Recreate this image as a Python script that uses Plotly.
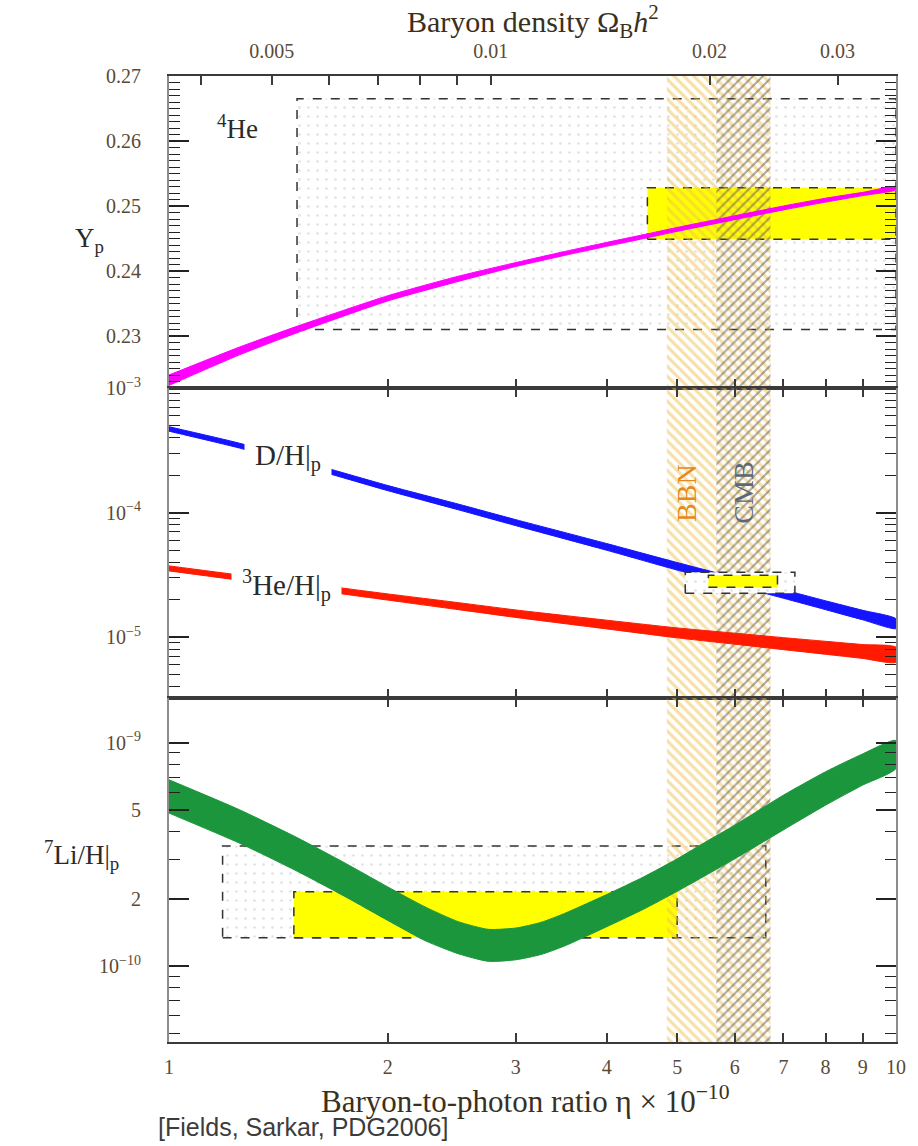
import plotly.graph_objects as go
import numpy as np

# ---------------- data ----------------
# Helium-4 mass fraction band
eta_yp = [1, 1.25, 1.5, 2, 2.5, 3, 3.5, 4, 4.5, 5, 6, 7, 8, 9, 10]
yp_hi = [0.2240, 0.2283, 0.2315, 0.2362, 0.2392, 0.2413, 0.2430, 0.2444, 0.2456, 0.2467, 0.2485, 0.2500, 0.2512, 0.2521, 0.2530]
yp_lo = [0.2224, 0.2271, 0.2305, 0.2354, 0.2384, 0.2407, 0.2424, 0.2438, 0.2450, 0.2461, 0.2479, 0.2494, 0.2506, 0.2516, 0.2525]

# D/H and 3He/H bands
eta_dh = [1, 1.25, 1.5, 2, 2.5, 3, 4, 5, 6, 7, 8, 9, 10]
dh_hi = [4.90e-4, 3.61e-4, 2.67e-4, 1.65e-4, 1.17e-4, 8.77e-5, 5.64e-5, 3.97e-5, 3.01e-5, 2.40e-5, 1.955e-5, 1.64e-5, 1.40e-5]
dh_lo = [4.51e-4, 3.30e-4, 2.44e-4, 1.50e-4, 1.053e-4, 7.85e-5, 4.98e-5, 3.45e-5, 2.60e-5, 2.05e-5, 1.66e-5, 1.375e-5, 1.17e-5]
he3_hi = [3.73e-5, 3.15e-5, 2.76e-5, 2.22e-5, 1.89e-5, 1.65e-5, 1.366e-5, 1.184e-5, 1.074e-5, 9.89e-6, 9.24e-6, 8.70e-6, 8.27e-6]
he3_lo = [3.40e-5, 2.86e-5, 2.49e-5, 1.98e-5, 1.66e-5, 1.437e-5, 1.162e-5, 9.85e-6, 8.76e-6, 7.92e-6, 7.27e-6, 6.73e-6, 6.27e-6]

# Li-7 band
eta_li = [1, 1.25, 1.5, 1.75, 2, 2.25, 2.5, 2.75, 3, 3.25, 3.5, 4, 4.5, 5, 5.5, 6, 7, 8, 9, 10]
li_hi = [6.82e-10, 5.01e-10, 3.76e-10, 2.88e-10, 2.26e-10, 1.84e-10, 1.58e-10, 1.46e-10, 1.48e-10, 1.57e-10,
         1.72e-10, 2.09e-10, 2.51e-10, 3.02e-10, 3.63e-10, 4.27e-10, 5.82e-10, 7.41e-10, 8.91e-10, 1.023e-9]
li_lo = [4.84e-10, 3.55e-10, 2.66e-10, 2.04e-10, 1.60e-10, 1.30e-10, 1.135e-10, 1.05e-10, 1.067e-10, 1.127e-10,
         1.23e-10, 1.50e-10, 1.80e-10, 2.16e-10, 2.57e-10, 3.02e-10, 4.07e-10, 5.25e-10, 6.46e-10, 7.67e-10]

# observational boxes: [eta_min, eta_max], [y_min, y_max]
he4_box_eta, he4_box_y = [1.50, 10.0], [0.231, 0.2665]
he4_yel_eta, he4_yel_y = [4.55, 10.0], [0.2449, 0.2528]
dh_box_eta, dh_box_y = [5.13, 7.26], [2.25e-5, 3.31e-5]
dh_yel_eta, dh_yel_y = [5.52, 6.87], [2.51e-5, 3.13e-5]
li_box_eta, li_box_y = [1.185, 6.62], [1.34e-10, 3.45e-10]
li_yel_eta, li_yel_y = [1.485, 5.0], [1.34e-10, 2.15e-10]

# concordance bands
bbn_eta = [4.84, 6.72]
cmb_eta = [5.66, 6.72]

# axes
eta_ticks = [1, 2, 3, 4, 5, 6, 7, 8, 9, 10]
eta_tick_text = ["1", "2", "3", "4", "5", "6", "7", "8", "9", "10"]
omega_ticks = [0.004, 0.005, 0.006, 0.007, 0.008, 0.009, 0.01, 0.02, 0.03]
omega_tick_text = ["", "0.005", "", "", "", "", "0.01", "0.02", "0.03"]
ETA_PER_OMEGA = 277.0
yp_ticks = [0.23, 0.24, 0.25, 0.26, 0.27]
yp_tick_text = ["0.23", "0.24", "0.25", "0.26", "0.27"]
mid_ticks = [1e-5, 1e-4, 1e-3]
mid_tick_text = ["10<sup>−5</sup>", "10<sup>−4</sup>", "10<sup>−3</sup>"]
li_ticks = [1e-10, 2e-10, 5e-10, 1e-9]
li_tick_text = ["10<sup>−10</sup>", "2", "5", "10<sup>−9</sup>"]

Y1_RANGE = [0.222, 0.27]
Y2_RANGE = [-5.49, -2.999]
Y3_RANGE = [-10.34, -8.8]

# ---------------- helpers ----------------
SERIF = "Liberation Serif"
LABEL_COL = "#5a4a35"
AX_LINE = "#3a3a3a"
Y_LINE = "#8c8c8c"


def rect(xr, yr):
    return [xr[0], xr[1], xr[1], xr[0], xr[0]], [yr[0], yr[0], yr[1], yr[1], yr[0]]


def band(x, hi, lo):
    return list(x) + list(x)[::-1], list(hi) + list(lo)[::-1]


fig = go.Figure()


def add_stipple_box(xr, yr, xa, ya, bg="rgba(255,255,255,0)"):
    xs, ys = rect(xr, yr)
    fig.add_trace(go.Scatter(x=xs, y=ys, xaxis=xa, yaxis=ya, mode="lines", fill="toself",
                             fillcolor=bg,
                             fillpattern=dict(shape=".", fgcolor="#c4c4c4", bgcolor=bg, size=9, solidity=0.07),
                             line=dict(color="#333333", width=1.5, dash="dash"),
                             hoverinfo="skip", showlegend=False))


def add_yellow_box(xr, yr, xa, ya):
    xs, ys = rect(xr, yr)
    fig.add_trace(go.Scatter(x=xs, y=ys, xaxis=xa, yaxis=ya, mode="lines", fill="toself",
                             fillcolor="#ffff00", line=dict(color="#333333", width=1.5, dash="dash"),
                             hoverinfo="skip", showlegend=False))


def add_hatches(xa, ya, yr, is_log):
    lo_, hi_ = (10 ** yr[0], 10 ** yr[1]) if is_log else (yr[0], yr[1])
    xs, ys = rect(bbn_eta, [lo_, hi_])
    fig.add_trace(go.Scatter(x=xs, y=ys, xaxis=xa, yaxis=ya, mode="lines", fill="toself",
                             fillcolor="rgba(0,0,0,0)",
                             fillpattern=dict(shape="\\", fgcolor="#f0c250", bgcolor="rgba(0,0,0,0)",
                                              size=7, solidity=0.45),
                             line=dict(width=0, color="rgba(0,0,0,0)"), hoverinfo="skip", showlegend=False))
    xs, ys = rect(cmb_eta, [lo_, hi_])
    fig.add_trace(go.Scatter(x=xs, y=ys, xaxis=xa, yaxis=ya, mode="lines", fill="toself",
                             fillcolor="rgba(0,0,0,0)",
                             fillpattern=dict(shape="/", fgcolor="#5c5650", bgcolor="rgba(0,0,0,0)",
                                              size=7, solidity=0.3),
                             line=dict(width=0, color="rgba(0,0,0,0)"), hoverinfo="skip", showlegend=False))


def add_band(x, hi, lo, color, xa, ya):
    xs, ys = band(x, hi, lo)
    fig.add_trace(go.Scatter(x=xs, y=ys, xaxis=xa, yaxis=ya, mode="lines", fill="toself",
                             fillcolor=color, line=dict(color=color, width=1, shape="spline", smoothing=0.6),
                             hoverinfo="skip", showlegend=False))


# ---- panel 1: 4He ----
add_stipple_box(he4_box_eta, he4_box_y, "x", "y")
add_yellow_box(he4_yel_eta, he4_yel_y, "x", "y")
add_hatches("x", "y", Y1_RANGE, False)
add_band(eta_yp, yp_hi, yp_lo, "#ff00ff", "x", "y")

# ---- panel 2: D/H, 3He/H ----
add_hatches("x2", "y2", Y2_RANGE, True)
add_band(eta_dh, dh_hi, dh_lo, "#1414ff", "x2", "y2")
add_band(eta_dh, he3_hi, he3_lo, "#ff1a00", "x2", "y2")
add_stipple_box(dh_box_eta, dh_box_y, "x2", "y2", bg="rgba(255,255,255,1)")
add_yellow_box(dh_yel_eta, dh_yel_y, "x2", "y2")

# ---- panel 3: 7Li ----
add_stipple_box(li_box_eta, li_box_y, "x3", "y3")
add_yellow_box(li_yel_eta, li_yel_y, "x3", "y3")
add_hatches("x3", "y3", Y3_RANGE, True)
add_band(eta_li, li_hi, li_lo, "#1b963c", "x3", "y3")

# invisible trace to carry the top (Omega_B h^2) axis
fig.add_trace(go.Scatter(x=[1, 10], y=[0.25, 0.25], xaxis="x4", yaxis="y", mode="lines",
                         line=dict(width=0, color="rgba(0,0,0,0)"), hoverinfo="skip", showlegend=False))

# ---------------- layout ----------------
tickfont = dict(family=SERIF, size=20, color=LABEL_COL)
d3 = [0.0, 0.3561]
d2 = [0.3561, 0.6770]
d1 = [0.6770, 1.0]

xcommon = dict(type="log", range=[0, 1], showline=True, linecolor=AX_LINE, linewidth=2,
               ticks="inside", ticklen=9, tickwidth=1.5, tickcolor=AX_LINE,
               tickmode="array", tickvals=eta_ticks, ticktext=eta_tick_text,
               showgrid=False, zeroline=False, tickfont=tickfont)

ycommon = dict(showline=True, linecolor=Y_LINE, linewidth=2, mirror="ticks",
               ticks="inside", ticklen=20, tickwidth=1.5, tickcolor="#222222",
               showgrid=False, zeroline=False, tickfont=tickfont, ticklabelstandoff=22)

mid_minor = [m * 10.0 ** e for e in (-6, -5, -4) for m in range(2, 10)]
li_minor = [m * 10.0 ** e for e in (-11, -10) for m in range(2, 10)]

fig.update_layout(
    width=918, height=1146,
    margin=dict(l=169, r=13, t=76, b=104),
    plot_bgcolor="white", paper_bgcolor="white",
    showlegend=False,
    xaxis=dict(**xcommon, anchor="y", domain=[0, 1], showticklabels=False, mirror=False),
    xaxis2=dict(**xcommon, anchor="y2", domain=[0, 1], showticklabels=False, mirror="ticks"),
    xaxis3=dict(**xcommon, anchor="y3", domain=[0, 1], showticklabels=True, mirror="ticks",
                ticklabelstandoff=6),
    xaxis4=dict(type="log", range=[0, 1], overlaying="x", anchor="y", side="top",
                showline=True, linecolor=AX_LINE, linewidth=2,
                ticks="inside", ticklen=9, tickwidth=1.5, tickcolor=AX_LINE,
                tickmode="array", tickvals=[o * ETA_PER_OMEGA for o in omega_ticks],
                ticktext=omega_tick_text, showgrid=False, zeroline=False, tickfont=tickfont,
                ticklabelstandoff=8),
    yaxis=dict(**ycommon, domain=d1, range=Y1_RANGE, tickmode="array", tickvals=yp_ticks,
               ticktext=yp_tick_text,
               minor=dict(ticks="inside", ticklen=11, tickwidth=1.2, tickcolor="#222222",
                          dtick=0.001, tick0=0.22, showgrid=False)),
    yaxis2=dict(**ycommon, domain=d2, type="log", range=Y2_RANGE, tickmode="array",
                tickvals=mid_ticks, ticktext=mid_tick_text,
                minor=dict(ticks="inside", ticklen=11, tickwidth=1.2, tickcolor="#222222",
                           tickmode="array", tickvals=mid_minor, showgrid=False)),
    yaxis3=dict(**ycommon, domain=d3, type="log", range=Y3_RANGE, tickmode="array",
                tickvals=li_ticks, ticktext=li_tick_text,
                minor=dict(ticks="inside", ticklen=11, tickwidth=1.2, tickcolor="#222222",
                           tickmode="array", tickvals=li_minor, showgrid=False)),
)

ann_font = dict(family=SERIF, size=29, color="#2a2a2a")
annotations = [
    dict(text="<sup>4</sup>He", x=0.094, y=0.947, font=dict(family=SERIF, size=27, color="#2a2a2a")),
    dict(text="D/H|<sub>p</sub>", x=0.164, y=0.6046, font=ann_font, bgcolor="white", borderpad=10),
    dict(text="<sup>3</sup>He/H|<sub>p</sub>", x=0.162, y=0.473, font=ann_font, bgcolor="white", borderpad=10),
    dict(text="BBN", x=0.712, y=0.568, textangle=-90, font=dict(family=SERIF, size=28, color="#e48a1c")),
    dict(text="CMB", x=0.790, y=0.569, textangle=-90, font=dict(family=SERIF, size=28, color="#5b6878")),
    dict(text="Y<sub>p</sub>", x=-0.11, y=0.830, font=dict(family=SERIF, size=27, color="#2a2a2a")),
    dict(text="<sup>7</sup>Li/H|<sub>p</sub>", x=-0.121, y=0.194, font=dict(family=SERIF, size=27, color="#2a2a2a")),
    dict(text="Baryon density Ω<sub>B</sub><i>h</i><sup>2</sup>", x=0.5, y=1.056,
         font=dict(family=SERIF, size=30, color="#3a3020")),
    dict(text="Baryon-to-photon ratio η × 10<sup>−10</sup>", x=0.49, y=-0.060,
         font=dict(family=SERIF, size=31, color="#3a3020")),
    dict(text="[Fields, Sarkar, PDG2006]", x=0.185, y=-0.088,
         font=dict(family="Liberation Sans", size=25, color="#3c3c3c")),
]
for a in annotations:
    a.update(xref="paper", yref="paper", showarrow=False, xanchor="center", yanchor="middle")
fig.update_layout(annotations=annotations)

fig.write_html("out.html")
